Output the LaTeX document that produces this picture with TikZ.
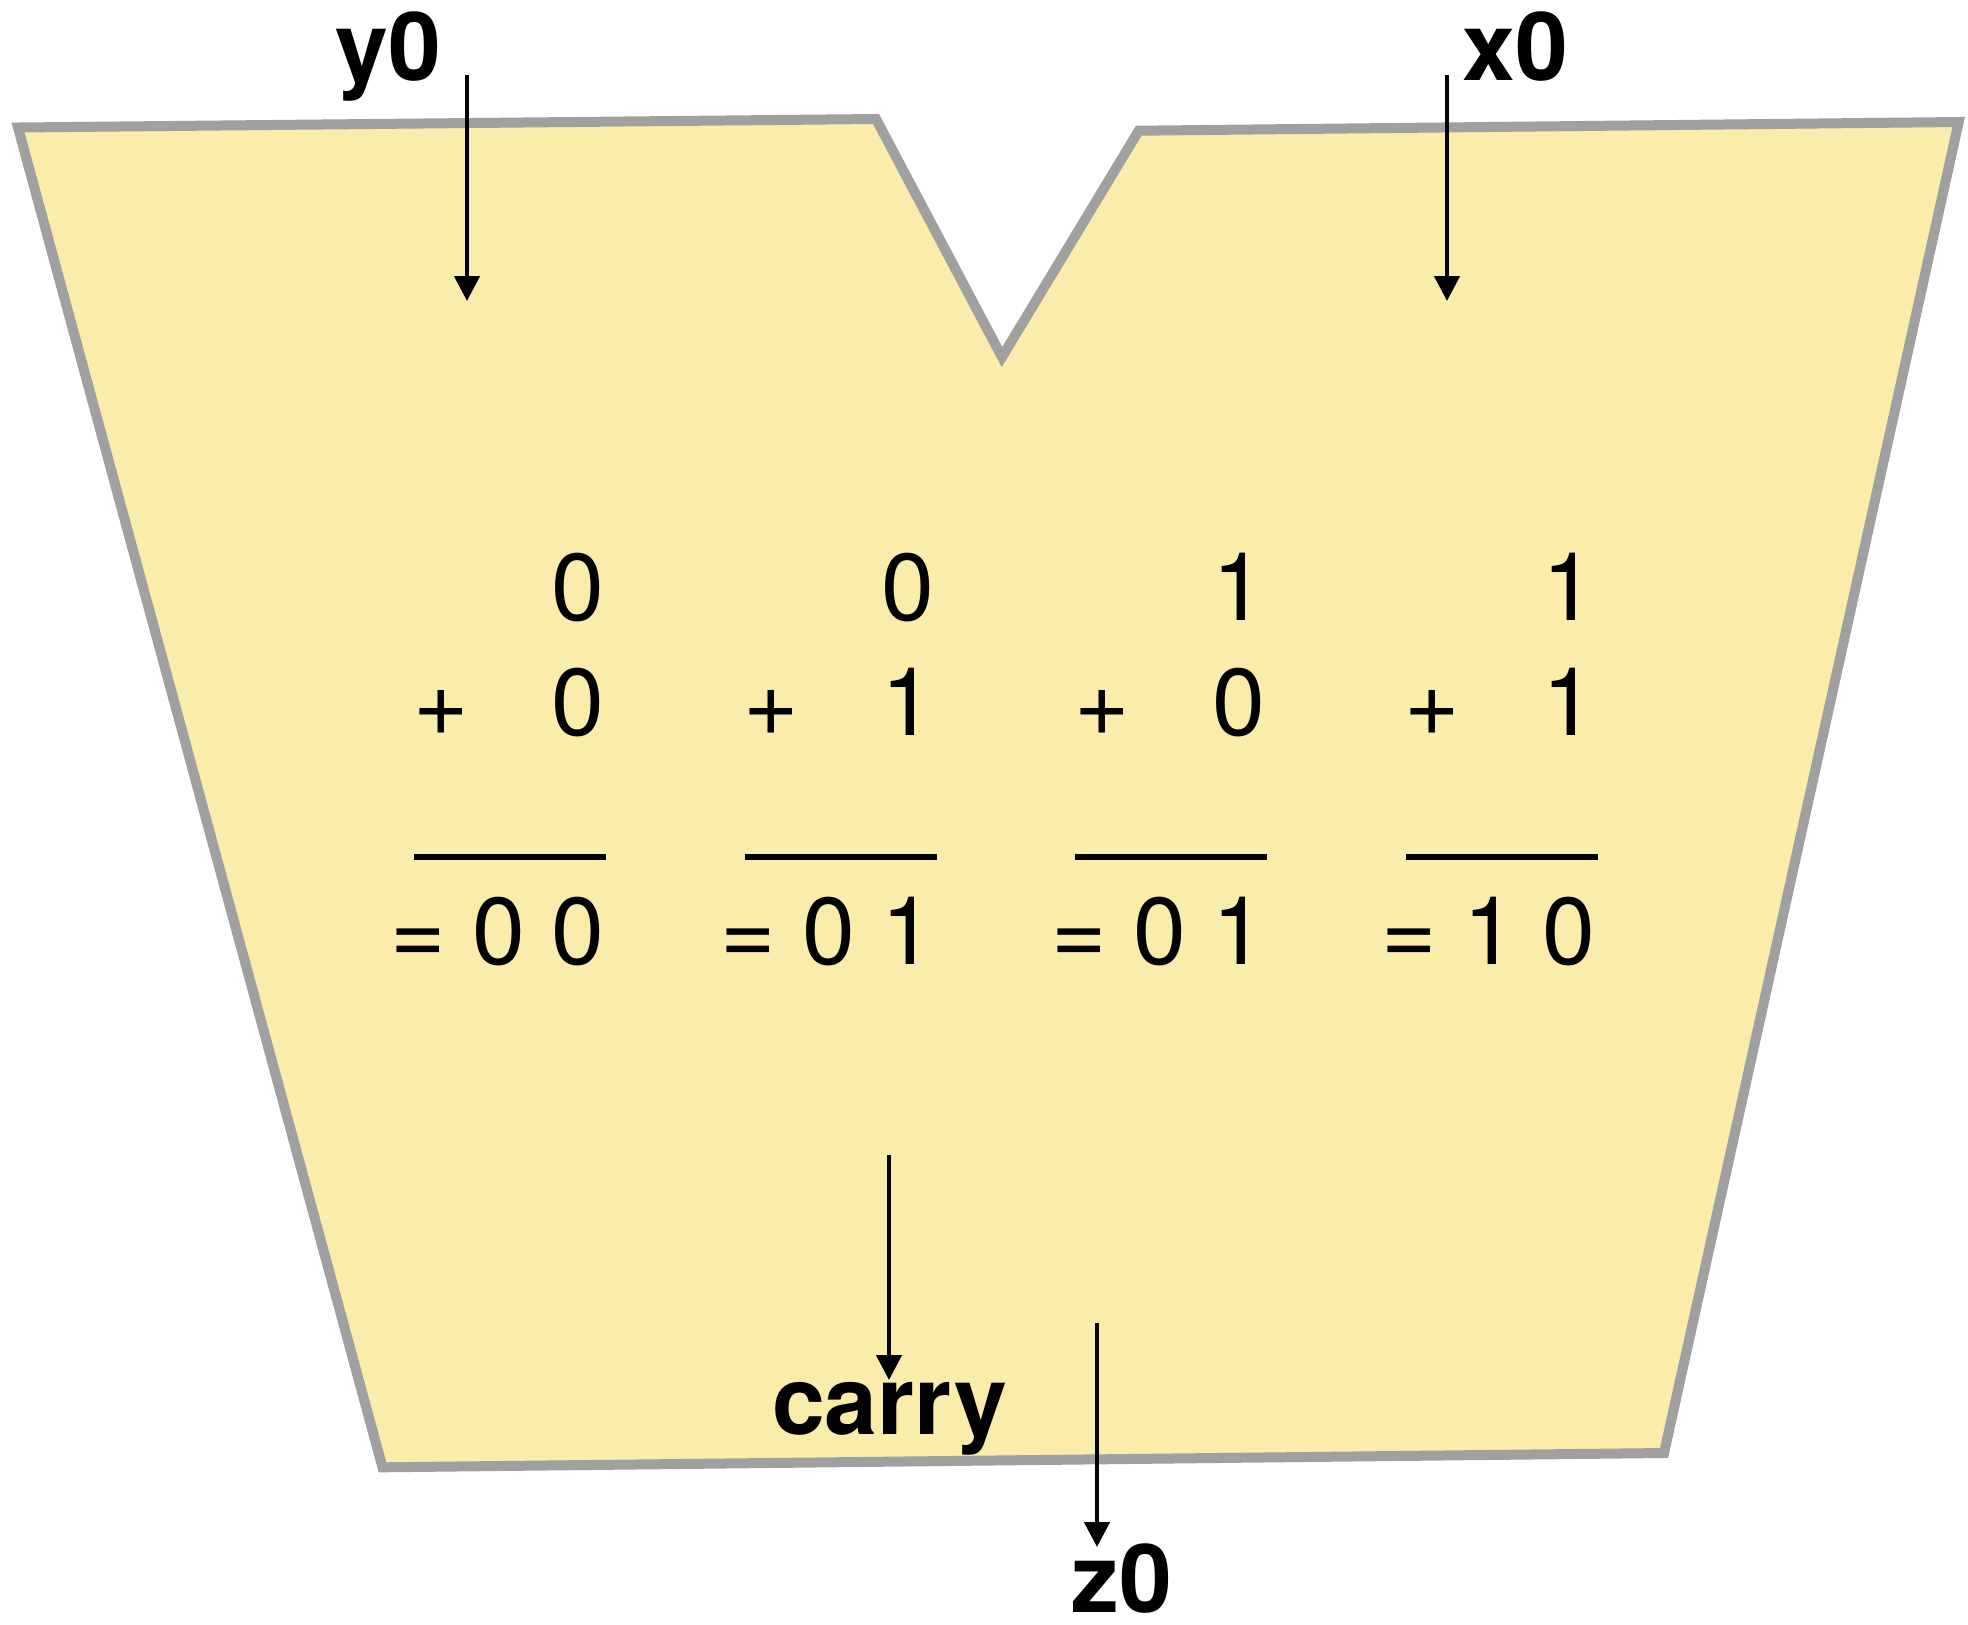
\documentclass[tikz,border=0pt]{standalone}
\usepackage{fontspec}
\setmainfont{TeX Gyre Heros}
\usetikzlibrary{arrows.meta}
\definecolor{blockfill}{RGB}{250,236,170}
\definecolor{blockedge}{RGB}{160,160,160}
\begin{document}
\begin{tikzpicture}[x=0.5pt,y=-0.5pt,
  txt/.style={inner sep=0pt, font=\fontsize{47.5}{57}\selectfont},
  lbl/.style={inner sep=0pt, font=\fontsize{47.5}{57}\selectfont\bfseries},
  sig/.style={line width=2.25pt, -{Triangle[length=12.5pt,width=12.5pt]}},
  sumline/.style={line width=2.75pt},
  block/.style={fill=blockfill, draw=blockedge, line width=5pt, line join=miter}]
\useasboundingbox (0,0) rectangle (1968,1624);
% adder block
\draw[block] (18,127.5) -- (876,119) -- (1002,357) -- (1138.7,130.7)
  -- (1958.7,122) -- (1664,1453) -- (382.5,1467.3) -- cycle;
% labels
\node[lbl, anchor=base] (y0) at (388,80) {y0};
\node[lbl, anchor=base] (x0) at (1515,80) {x0};
\node[lbl, anchor=base] (carry) at (889.5,1434) {carry};
\node[lbl, anchor=base] (z0) at (1122,1612) {z0};
% signal arrows
\coordinate (y0s) at (467,75);   \coordinate (y0e) at (467,301);
\coordinate (x0s) at (1447,75);  \coordinate (x0e) at (1447,301);
\coordinate (cs) at (889,1155);  \coordinate (ce) at (889,1380);
\coordinate (z0s) at (1097,1323); \coordinate (z0e) at (1097,1547);
\draw[sig] (y0s) -- (y0e);
\draw[sig] (x0s) -- (x0e);
\draw[sig] (cs) -- (ce);
\draw[sig] (z0s) -- (z0e);
% truth table of the half adder
\foreach \i/\a/\b/\s in {0/0/0/{0 0}, 1/0/1/{0 1}, 2/1/0/{0 1}, 3/1/1/{1 0}} {
  \pgfmathsetmacro\dx{330.5*\i}
  \node[txt, anchor=base east] (a\i) at (604.5+\dx,620) {\a};
  \node[txt, anchor=base] (p\i) at (441+\dx,735) {+};
  \node[txt, anchor=base east] (b\i) at (604.5+\dx,735) {\b};
  \coordinate (l\i) at (414+\dx,857);
  \coordinate (r\i) at (606+\dx,857);
  \draw[sumline] (l\i) -- (r\i);
  \node[txt, anchor=base east] (s\i) at (604.5+\dx,964) {= \s};
}
\end{tikzpicture}
\end{document}
